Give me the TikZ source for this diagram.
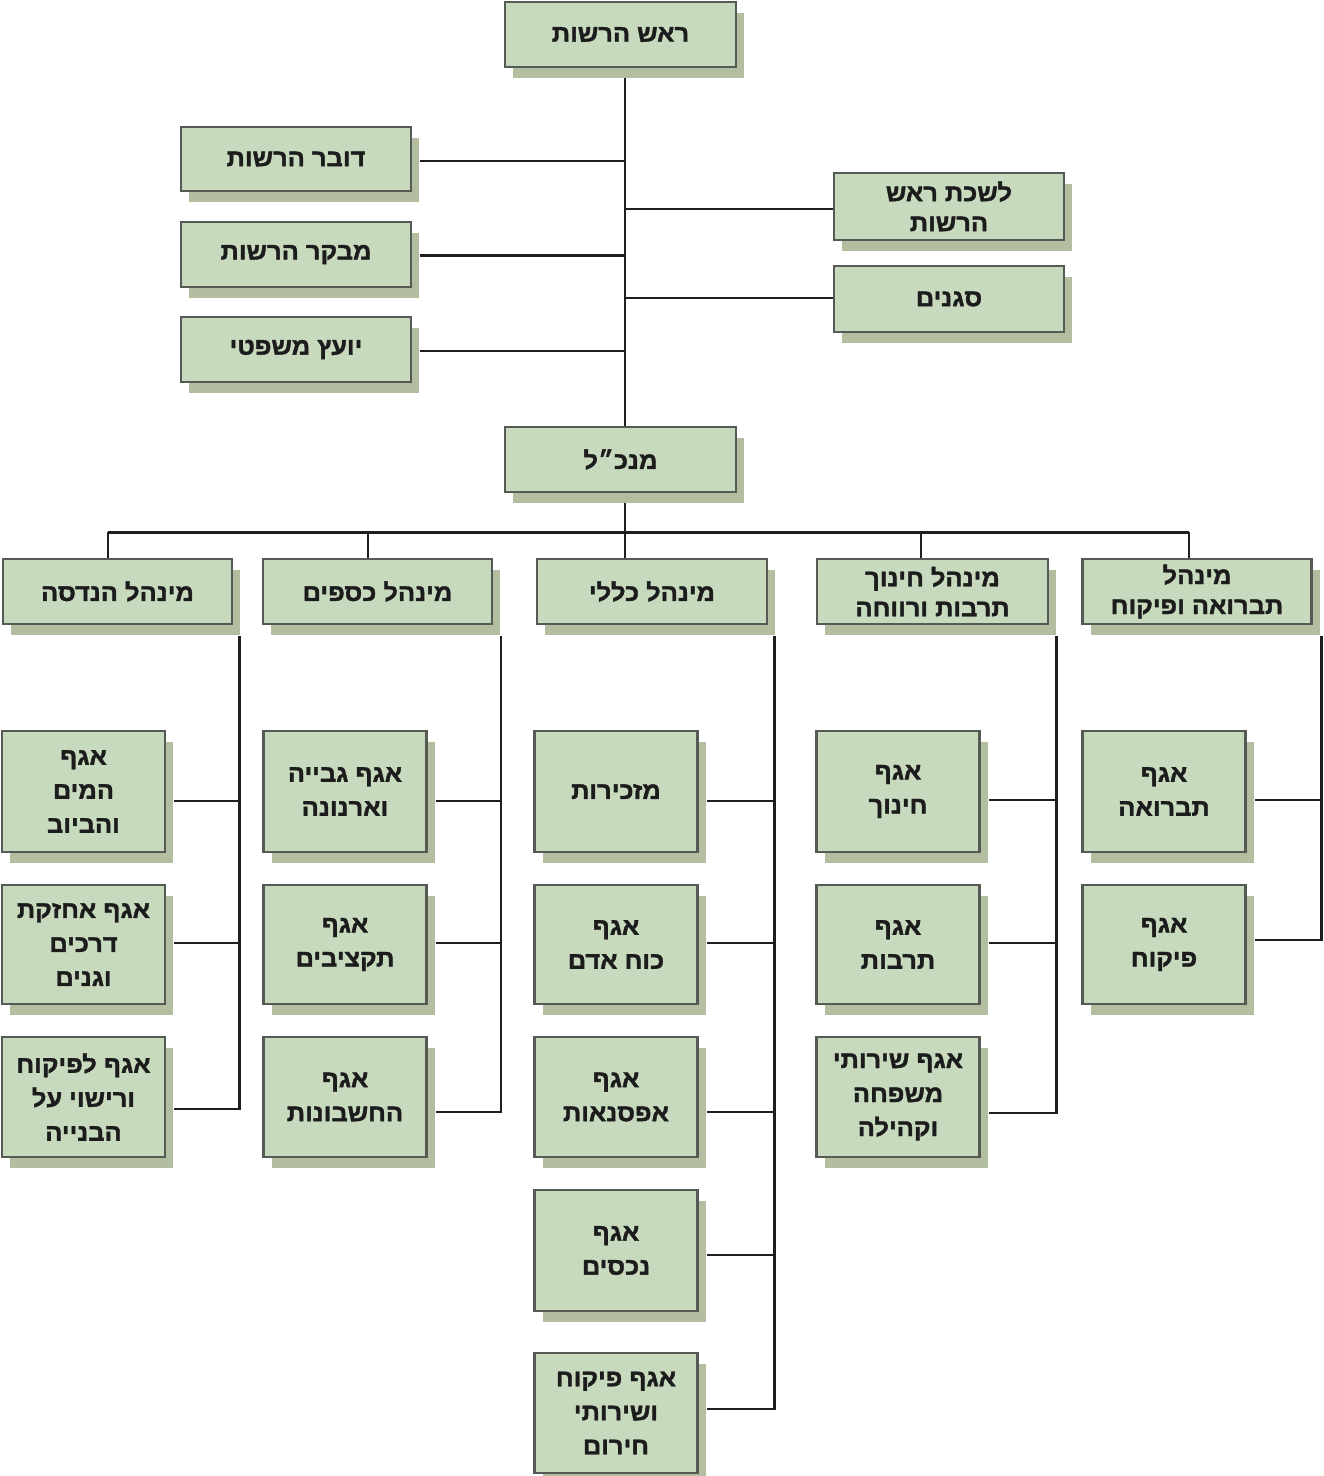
\documentclass[tikz,border=0pt]{standalone}
\usepackage{fontspec}
\TeXXeTstate=1
\newfontfamily\hebfont[Script=Hebrew,FakeStretch=1.06,BoldFeatures={FakeBold=1.6}]{Liberation Sans}
\usetikzlibrary{shadows,backgrounds}
\definecolor{boxfill}{HTML}{C8DABE}
\definecolor{shadowcol}{HTML}{B3BEA0}
\definecolor{boxborder}{HTML}{555A55}
\definecolor{linecol}{HTML}{1E1E1E}
\definecolor{textcol}{HTML}{1C1C1C}
\newcommand{\hb}[1]{\beginR #1\endR}
\newcommand{\lnk}[3]{\coordinate (tmp) at ([shift={(8,#2)}]#1.east); \draw[conn] (tmp) -- (tmp -| #3);}
\newcommand{\lnklast}[3]{\coordinate (tmp) at ([shift={(8,#2)}]#1.east); \draw[conn] (#3) |- (tmp);}
\begin{document}
\begin{tikzpicture}[x=1pt,y=-1pt,
  box/.style={draw=boxborder, line width=2.6pt, fill=boxfill, inner sep=0pt, align=center,
    font=\hebfont\bfseries\fontsize{24}{30}\selectfont, text=textcol,
    drop shadow={shadow xshift=8pt, shadow yshift=-11pt, fill=shadowcol, opacity=1}},
  topbox/.style={box, minimum width=230pt, minimum height=65pt},
  midbox/.style={box, minimum width=229pt, minimum height=65pt},
  smallbox/.style={box, minimum width=163pt, font=\hebfont\bfseries\fontsize{24}{34}\selectfont},
  conn/.style={draw=linecol, line width=2.6pt}]
\useasboundingbox (0,0) rectangle (1324,1476);
% level 0/1
\node[topbox, minimum width=231pt] (top) at (620.5,34.5) {\hb{ראש הרשות}};
\node[topbox, minimum height=64pt] (spk) at (296,159) {\hb{דובר הרשות}};
\node[topbox] (aud) at (296,254.5) {\hb{מבקר הרשות}};
\node[topbox] (leg) at (296,349.5) {\hb{יועץ משפטי}};
\node[topbox, minimum height=67pt] (off) at (949,206.5) {\hb{לשכת ראש}\\\hb{הרשות}};
\node[topbox, minimum height=66pt] (dep) at (949,299) {\hb{סגנים}};
\node[topbox, minimum width=231pt] (gm) at (620.5,459.5) {\hb{מנכ״ל}};
% level 2
\node[midbox] (eng) at (117.5,591.5) {\hb{מינהל הנדסה}};
\node[midbox] (fin) at (377.5,591.5) {\hb{מינהל כספים}};
\node[midbox, minimum width=230pt] (gen) at (652,591.5) {\hb{מינהל כללי}};
\node[midbox, minimum width=231pt] (edu) at (932.5,591.5) {\hb{מינהל חינוך}\\\hb{תרבות ורווחה}};
\node[midbox] (san) at (1197,591.5) {\hb{מינהל}\\\hb{תברואה ופיקוח}};
% level 3 - column 1
\node[smallbox, minimum height=121pt] (c1r1) at (83.5,791.5) {\hb{אגף}\\\hb{המים}\\\hb{והביוב}};
\node[smallbox, minimum height=119pt] (c1r2) at (83.5,944.5) {\hb{אגף אחזקת}\\\hb{דרכים}\\\hb{וגנים}};
\node[smallbox, minimum height=120pt] (c1r3) at (83.5,1097) {\hb{אגף לפיקוח}\\\hb{ורישוי על}\\\hb{הבנייה}};
% column 2
\node[smallbox, minimum height=121pt] (c2r1) at (345,791.5) {\hb{אגף גבייה}\\\hb{וארנונה}};
\node[smallbox, minimum height=119pt] (c2r2) at (345,944.5) {\hb{אגף}\\\hb{תקציבים}};
\node[smallbox, minimum height=120pt] (c2r3) at (345,1097) {\hb{אגף}\\\hb{החשבונות}};
% column 3
\node[smallbox, minimum height=121pt] (c3r1) at (616,791.5) {\hb{מזכירות}};
\node[smallbox, minimum height=119pt] (c3r2) at (616,944.5) {\hb{אגף}\\\hb{כוח אדם}};
\node[smallbox, minimum height=120pt] (c3r3) at (616,1097) {\hb{אגף}\\\hb{אפסנאות}};
\node[smallbox, minimum height=121pt] (c3r4) at (616,1250.5) {\hb{אגף}\\\hb{נכסים}};
\node[smallbox, minimum height=120pt] (c3r5) at (616,1413) {\hb{אגף פיקוח}\\\hb{ושירותי}\\\hb{חירום}};
% column 4
\node[smallbox, minimum height=121pt] (c4r1) at (898,791.5) {\hb{אגף}\\\hb{חינוך}};
\node[smallbox, minimum height=119pt] (c4r2) at (898,944.5) {\hb{אגף}\\\hb{תרבות}};
\node[smallbox, minimum height=120pt] (c4r3) at (898,1097) {\hb{אגף שירותי}\\\hb{משפחה}\\\hb{וקהילה}};
% column 5
\node[smallbox, minimum height=121pt] (c5r1) at (1164,791.5) {\hb{אגף}\\\hb{תברואה}};
\node[smallbox, minimum height=119pt] (c5r2) at (1164,944.5) {\hb{אגף}\\\hb{פיקוח}};

\begin{pgfonlayer}{background}
\fill[white] (0,0) rectangle (1324,1476);
% trunk
\coordinate (t0) at ([shift={(4.5,0)}]top.south);
\draw[conn] (t0) -- (t0 |- gm.north);
\lnk{spk}{2}{t0}
\lnk{aud}{1}{t0}
\lnk{leg}{1.5}{t0}
\draw[conn] ([shift={(0,2.5)}]off.west) -- ([shift={(0,2.5)}]off.west -| t0);
\draw[conn] ([shift={(0,-1)}]dep.west) -- ([shift={(0,-1)}]dep.west -| t0);
% bus
\coordinate (bus) at ([shift={(4.5,39)}]gm.south);
\draw[conn] ([shift={(4.5,0)}]gm.south) -- (bus);
\coordinate (d1) at ([shift={(-9.5,0)}]eng.north);
\coordinate (d2) at ([shift={(-9.5,0)}]fin.north);
\coordinate (d3) at ([shift={(-27,0)}]gen.north);
\coordinate (d4) at ([shift={(-11.5,0)}]edu.north);
\coordinate (d5) at ([shift={(-8,0)}]san.north);
\draw[conn] (d1 |- bus) -- (d5 |- bus);
\foreach \d in {d1,d2,d3,d4,d5} {\draw[conn] (\d) -- (\d |- bus);}
% column verticals
\coordinate (v1) at ([shift={(6,11)}]eng.south east);
\coordinate (v2) at ([shift={(7.5,11)}]fin.south east);
\coordinate (v3) at ([shift={(6,11)}]gen.south east);
\coordinate (v4) at ([shift={(7,11)}]edu.south east);
\coordinate (v5) at ([shift={(8.5,11)}]san.south east);
\lnk{c1r1}{9.5}{v1}
\lnk{c1r2}{-1.5}{v1}
\lnklast{c1r3}{12}{v1}
\lnk{c2r1}{9.5}{v2}
\lnk{c2r2}{-1.5}{v2}
\lnklast{c2r3}{15}{v2}
\lnk{c3r1}{9.5}{v3}
\lnk{c3r2}{-1.5}{v3}
\lnk{c3r3}{15}{v3}
\lnk{c3r4}{4.5}{v3}
\lnklast{c3r5}{-4}{v3}
\lnk{c4r1}{8.5}{v4}
\lnk{c4r2}{-1.5}{v4}
\lnklast{c4r3}{16}{v4}
\lnk{c5r1}{8.5}{v5}
\lnklast{c5r2}{-4.5}{v5}
\end{pgfonlayer}
\end{tikzpicture}
\end{document}
